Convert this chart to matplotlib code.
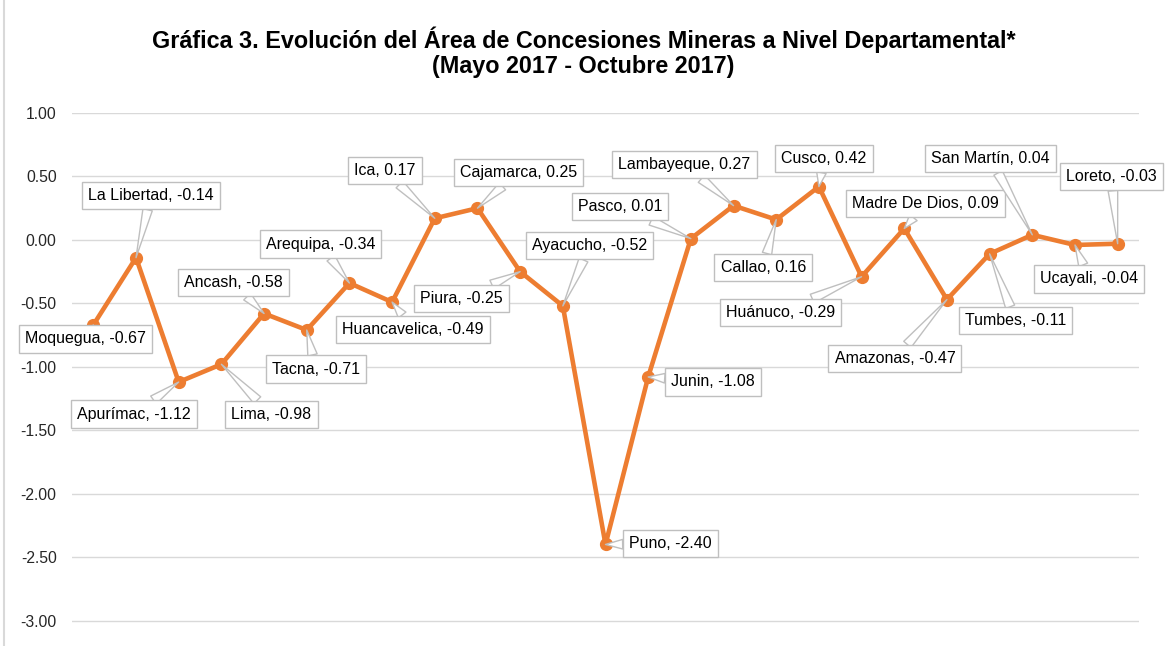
import matplotlib.pyplot as plt
import numpy as np

plt.rcParams['font.family'] = ['Liberation Sans', 'DejaVu Sans']

# data
departamentos = ["Moquegua", "La Libertad", "Apurímac", "Lima", "Ancash", "Tacna",
                 "Arequipa", "Huancavelica", "Ica", "Cajamarca", "Piura", "Ayacucho",
                 "Puno", "Junin", "Pasco", "Lambayeque", "Callao", "Cusco", "Huánuco",
                 "Madre De Dios", "Amazonas", "Tumbes", "San Martín", "Ucayali", "Loreto"]
variacion = [-0.67, -0.14, -1.12, -0.98, -0.58, -0.71, -0.34, -0.49, 0.17, 0.25,
             -0.25, -0.52, -2.40, -1.08, 0.01, 0.27, 0.16, 0.42, -0.29, 0.09,
             -0.47, -0.11, 0.04, -0.04, -0.03]
yticks = [1.0, 0.5, 0.0, -0.5, -1.0, -1.5, -2.0, -2.5, -3.0]

# label offsets in pixels (dx, dy)
offsets = [(-8, -14), (15, 62), (-45, -32), (50, -50), (-31, 31), (9, -39),
           (-29, 39), (21, -27), (-50, 48), (41, 36), (-59, -27), (27, 60),
           (65, 1), (65, -5), (-71, 32), (-49, 41), (-13, -48), (5, 28),
           (-81, -36), (21, 25), (-52, -59), (26, -67), (-42, 76), (14, -34),
           (-6, 67)]

naranja = "#ED7D31"

fig = plt.figure(figsize=(11.67, 6.46), dpi=100)
ax = fig.add_axes([72/1167, 0, (1139-72)/1167, 1 - 113/646])

x = np.arange(len(variacion))
ax.plot(x, variacion, color=naranja, linewidth=3.3, marker="o", markersize=8.5,
        solid_joinstyle="round")

for i in range(len(x)):
    ax.annotate(f"{departamentos[i]}, {variacion[i]:.2f}", (x[i], variacion[i]),
                xytext=offsets[i], textcoords="offset pixels",
                ha="center", va="center", fontsize=11.5, color="#000000",
                bbox=dict(boxstyle="square,pad=0.38", fc="white", ec="#BFBFBF", lw=1),
                arrowprops=dict(arrowstyle="wedge,tail_width=0.6", fc="white",
                                ec="#BFBFBF", lw=1, shrinkA=0, shrinkB=0),
                zorder=5)

ax.set_xlim(-0.5, len(x) - 0.5)
ax.set_ylim(-3.2, 1.0)
ax.set_yticks(yticks)
ax.set_yticklabels([f"{t:.2f}" for t in yticks], fontsize=11.3, color="#262626")
ax.set_xticks([])
ax.tick_params(axis="y", length=0, pad=11)
ax.grid(axis="y", color="#D9D9D9", linewidth=1)
ax.set_axisbelow(True)
for s in ax.spines.values():
    s.set_visible(False)

fig.text(0.5, 1 - 40/646, "Gráfica 3. Evolución del Área de Concesiones Mineras a Nivel Departamental*",
         ha="center", va="center", fontsize=16.8, fontweight="bold")
fig.text(0.5, 1 - 67/646, "(Mayo 2017 - Octubre 2017)",
         ha="center", va="center", fontsize=16.8, fontweight="bold")

fig.add_artist(plt.Line2D([4/1167, 4/1167], [0, 1], color="#D9D9D9", linewidth=1.5,
                          transform=fig.transFigure))

fig.savefig("out.png", dpi=100)
